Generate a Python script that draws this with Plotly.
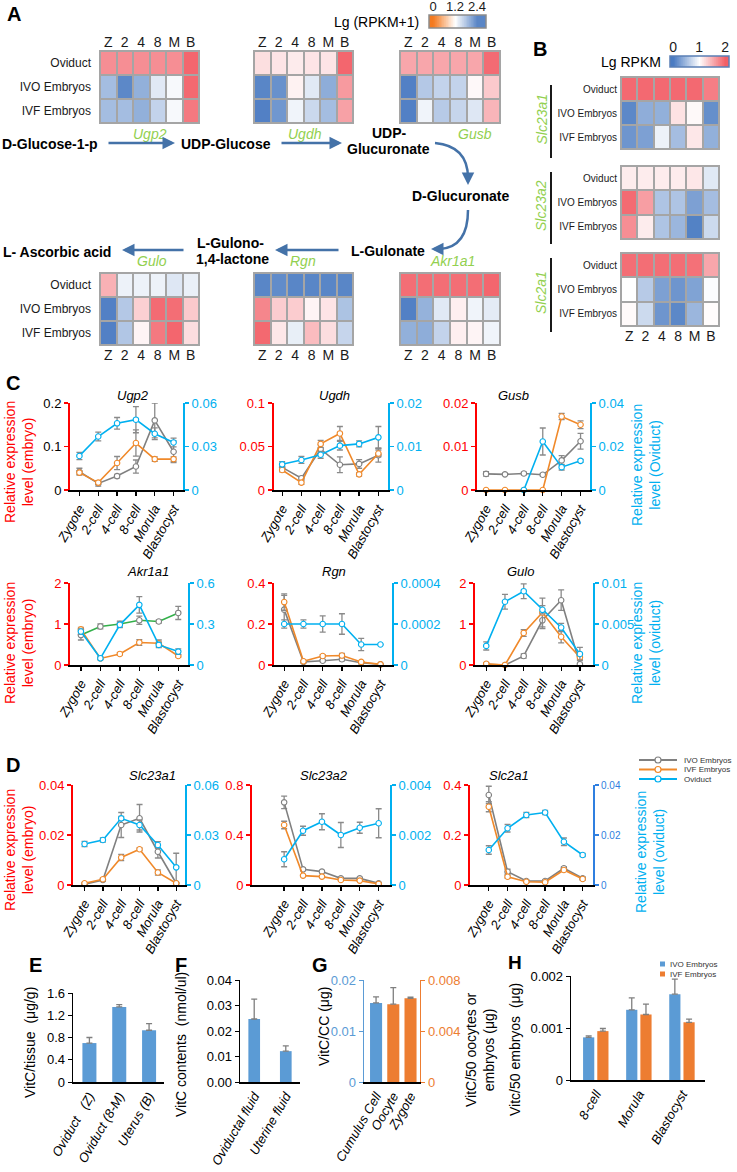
import numpy as np
import plotly.graph_objects as go

FONT = "Liberation Sans"
W, H = 737, 1172

# ------------------------------------------------------------------ DATA
stage_abbr = ["Z", "2", "4", "8", "M", "B"]
stages = ["Zygote", "2-cell", "4-cell", "8-cell", "Morula", "Blastocyst"]
heat_rows = ["Oviduct", "IVO Embryos", "IVF Embryos"]

# Panel A heatmaps, Lg(RPKM+1)  (rows: Oviduct, IVO, IVF)
ugp2_heat = [[0.36, 0.36, 0.36, 0.36, 0.36, 0.06],
             [1.80, 2.28, 1.92, 1.40, 1.25, 0.08],
             [1.80, 1.80, 1.92, 1.60, 1.25, 0.20]]
ugdh_heat = [[0.96, 1.00, 1.05, 1.00, 1.00, 0.06],
             [2.30, 2.20, 1.10, 1.40, 1.95, 0.45],
             [2.35, 2.15, 1.30, 1.55, 1.80, 0.50]]
gusb_heat = [[0.54, 0.54, 0.54, 0.54, 0.54, 0.10],
             [2.35, 1.70, 1.60, 1.60, 1.15, 0.80],
             [2.35, 1.30, 1.68, 1.58, 1.42, 0.65]]
gulo_heat = [[0.62, 1.32, 1.32, 1.32, 1.42, 1.34],
             [2.35, 1.70, 0.85, 0.10, 0.12, 0.80],
             [2.35, 1.72, 1.12, 0.20, 0.06, 0.95]]
rgn_heat = [[2.30, 2.25, 2.30, 2.30, 2.30, 2.30],
            [0.30, 0.82, 0.82, 1.12, 1.00, 1.75],
            [0.08, 1.02, 1.35, 0.70, 0.95, 1.58]]
akr1a1_heat = [[0.12, 0.12, 0.12, 0.12, 0.12, 0.06],
               [2.35, 1.90, 1.40, 1.08, 1.30, 1.38],
               [1.92, 1.95, 1.60, 1.08, 1.12, 1.30]]

# Panel B heatmaps, Lg RPKM
slc23a1_heat = [[1.93, 1.93, 1.93, 1.93, 1.93, 1.80],
                [0.10, 0.38, 0.40, 1.18, 1.04, 0.15],
                [0.20, 0.28, 0.90, 0.50, 1.15, 0.40]]
slc23a2_heat = [[1.12, 1.12, 1.12, 1.12, 1.15, 0.83],
                [1.92, 1.60, 0.55, 0.55, 0.28, 0.50],
                [1.70, 1.12, 0.55, 0.45, 0.05, 0.72]]
slc2a1_heat = [[1.90, 1.90, 1.90, 1.90, 1.88, 1.55],
               [1.00, 0.60, 0.28, 0.20, 0.30, 0.98],
               [1.03, 0.72, 0.20, 0.10, 0.45, 1.02]]

cbarA_ticks = [0, 1.2, 2.4]
cbarA_text = ["0", "1.2", "2.4"]
cbarB_ticks = [0, 1, 2]
cbarB_text = ["0", "1", "2"]

# Panel C / D: relative expression (mean, error)
ugp2_ivo = [0.042, 0.015, 0.032, 0.054, 0.160, 0.088]
ugp2_ivo_err = [0.008, 0.006, 0.004, 0.015, 0.040, 0.025]
ugp2_ivf = [0.040, 0.017, 0.062, 0.108, 0.071, 0.071]
ugp2_ivf_err = [0.004, 0.004, 0.015, 0.030, 0.005, 0.005]
ugp2_ovi = [0.0235, 0.0369, 0.0460, 0.0485, 0.0388, 0.0328]
ugp2_ovi_err = [0.0025, 0.0030, 0.0040, 0.0090, 0.0040, 0.0030]

ugdh_ivo = [0.026, 0.0135, 0.047, 0.029, 0.030, 0.040]
ugdh_ivo_err = [0.003, 0.002, 0.005, 0.009, 0.005, 0.008]
ugdh_ivf = [0.023, 0.0085, 0.053, 0.065, 0.018, 0.042]
ugdh_ivf_err = [0.002, 0.002, 0.004, 0.008, 0.002, 0.004]
ugdh_ovi = [0.0059, 0.0069, 0.0081, 0.0102, 0.0106, 0.0121]
ugdh_ovi_err = [0.0006, 0.0008, 0.0008, 0.0010, 0.0007, 0.0025]

gusb_ivo = [0.0037, 0.0036, 0.0038, 0.0035, 0.0068, 0.0112]
gusb_ivo_err = [0.0005, 0.0002, 0.0003, 0.0003, 0.0011, 0.0018]
gusb_ivf = [0, 0, 0, 0, 0.0169, 0.0150]
gusb_ivf_err = [0, 0, 0, 0, 0.0007, 0.0009]
gusb_ovi = [None, None, 0, 0.0223, 0.0105, 0.0134]
gusb_ovi_err = [0, 0, 0, 0.0062, 0.0013, 0.0007]

akr1a1_ivo = [0.73, 0.94, 1.00, 1.09, 1.06, 1.27]
akr1a1_ivo_err = [0.12, 0.06, 0.07, 0.10, 0.04, 0.16]
akr1a1_ivf = [0.87, 0.16, 0.27, 0.55, 0.53, 0.22]
akr1a1_ivf_err = [0.05, 0.03, 0.03, 0.07, 0.08, 0.03]
akr1a1_ovi = [0.245, 0.049, 0.294, 0.440, 0.147, 0.098]
akr1a1_ovi_err = [0.020, 0.010, 0.020, 0.060, 0.020, 0.020]

rgn_ivo = [0.270, 0.015, 0.021, 0.028, 0.011, 0.003]
rgn_ivo_err = [0.070, 0.004, 0.005, 0.008, 0.003, 0.001]
rgn_ivf = [0.307, 0.018, 0.044, 0.046, 0.015, 0.003]
rgn_ivf_err = [0.040, 0.004, 0.006, 0.010, 0.003, 0.001]
rgn_ovi = [0.0002, 0.0002, 0.0002, 0.0002, 0.0001, 0.0001]
rgn_ovi_err = [0.00002, 0.00002, 0.00004, 0.00005, 0.00003, 0.0]

gulo_ivo = [0.02, 0.0, 0.22, 1.09, 1.58, 0.02]
gulo_ivo_err = [0.01, 0.0, 0.05, 0.20, 0.25, 0.20]
gulo_ivf = [0.03, 0.0, 0.78, 1.28, 0.69, 0.19]
gulo_ivf_err = [0.02, 0.0, 0.08, 0.35, 0.15, 0.05]
gulo_ovi = [0.00233, 0.00771, 0.0090, 0.00673, 0.00457, 0.00135]
gulo_ovi_err = [0.0005, 0.0009, 0.0009, 0.0005, 0.0005, 0.0008]

slc23a1_ivo = [0.0003, 0.0020, 0.0240, 0.0267, 0.0133, 0.0007]
slc23a1_ivo_err = [0.0003, 0.0005, 0.0050, 0.0055, 0.0025, 0.0120]
slc23a1_ivf = [0.0007, 0.0023, 0.0110, 0.0143, 0.0050, 0.0007]
slc23a1_ivf_err = [0.0003, 0.0005, 0.0012, 0.0005, 0.0010, 0.0003]
slc23a1_ovi = [0.0246, 0.0270, 0.0400, 0.0360, 0.0240, 0.0106]
slc23a1_ovi_err = [0.0015, 0.0012, 0.0012, 0.0030, 0.0020, 0.0005]

slc23a2_ivo = [0.661, 0.125, 0.107, 0.053, 0.053, 0.013]
slc23a2_ivo_err = [0.050, 0.010, 0.010, 0.008, 0.008, 0.003]
slc23a2_ivf = [0.480, 0.075, 0.067, 0.040, 0.035, 0.008]
slc23a2_ivf_err = [0.030, 0.008, 0.008, 0.005, 0.005, 0.002]
slc23a2_ovi = [0.00103, 0.00217, 0.00253, 0.00200, 0.00229, 0.00247]
slc23a2_ovi_err = [0.00030, 0.00018, 0.00032, 0.00050, 0.00022, 0.00058]

slc2a1_ivo = [0.360, 0.053, 0.016, 0.016, 0.067, 0.027]
slc2a1_ivo_err = [0.035, 0.010, 0.004, 0.004, 0.006, 0.005]
slc2a1_ivf = [0.313, 0.033, 0.013, 0.011, 0.060, 0.024]
slc2a1_ivf_err = [0.020, 0.005, 0.003, 0.003, 0.005, 0.004]
slc2a1_ovi = [0.0140, 0.0227, 0.0280, 0.0290, 0.0173, 0.0120]
slc2a1_ovi_err = [0.0017, 0.0015, 0.0010, 0.0008, 0.0015, 0.0006]

# Panel E-H
e_cats = ["Oviduct   (Z)", "Oviduct (8-M)", "Uterus (B)"]
e_vals = [0.70, 1.35, 0.93]
e_err = [0.10, 0.04, 0.12]
f_cats = ["Oviductal fluid", "Uterine fluid"]
f_vals = [0.0247, 0.0121]
f_err = [0.0078, 0.0021]
g_cats = ["Cumulus Cell", "Oocyte", "Zygote"]
g_cc_vals = [0.0155]
g_cc_err = [0.0012]
g_emb_vals = [0.0061, 0.00656]
g_emb_err = [0.0013, 0.0001]
h_cats = ["8-cell", "Morula", "Blastocyst"]
h_ivo = [0.00082, 0.00135, 0.00165]
h_ivo_err = [0.00003, 0.00023, 0.00029]
h_ivf = [0.00094, 0.00126, 0.00111]
h_ivf_err = [0.00005, 0.00020, 0.00006]

# ------------------------------------------------------------------ STYLE
RED = "#ff0000"
CYAN = "#00b0f0"
GRAY = "#808080"
ORANGE = "#f0892a"
GREEN_LINE = "#33b04a"
ERRC = "#8a8a8a"
BLUE_BAR = "#5b9bd5"
ORANGE_BAR = "#ed7d31"
GENE_GREEN = "#92d050"
ARROW = "#4472a8"
CELL_RED = "#f25e66"
CELL_BLUE = "#4a7bc2"
csA = [[0, CELL_RED], [0.5, "#ffffff"], [1, CELL_BLUE]]
csB = [[0, CELL_BLUE], [0.5, "#ffffff"], [1, CELL_RED]]
csA_bar = [[0, "#f47a1f"], [0.5, "#ffffff"], [1, "#5a86c6"]]


def X(px):
    return px / W


def Y(py):
    return 1 - py / H


fig = go.Figure()
layout = dict(width=W, height=H,
              margin=dict(l=0, r=0, t=0, b=0, pad=0, autoexpand=False),
              paper_bgcolor="white", plot_bgcolor="rgba(0,0,0,0)",
              showlegend=False, barmode="overlay", template="none",
              font=dict(family=FONT, color="black"))
ann = []
shp = []
cnt = {"x": 0, "y": 0}


def new_axis(kind):
    cnt[kind] += 1
    n = cnt[kind]
    ref = kind if n == 1 else f"{kind}{n}"
    name = f"{kind}axis" if n == 1 else f"{kind}axis{n}"
    return ref, name


def text(t, x, y, size=14, color="black", xanchor="center", angle=0):
    ann.append(dict(text=t, x=X(x), y=Y(y), xref="paper", yref="paper",
                    showarrow=False, xanchor=xanchor, yanchor="middle",
                    textangle=angle,
                    font=dict(family=FONT, size=size, color=color)))


def heat(z, x0, y0, x1, y1, cs, zmax, col_side=None, show_rows=False,
         row_size=12, row_pad=8, col_size=14):
    xa, xn = new_axis("x")
    ya, yn = new_axis("y")
    layout[xn] = dict(domain=[X(x0), X(x1)], anchor=ya, range=[-0.5, 5.5],
                      type="category", tickmode="array", tickvals=stage_abbr,
                      ticktext=stage_abbr, tickangle=0, automargin=False,
                      showgrid=False, zeroline=False, showline=False, ticks="",
                      showticklabels=col_side is not None,
                      side=col_side or "bottom",
                      tickfont=dict(family=FONT, size=col_size, color="#1a1a1a"),
                      fixedrange=True)
    layout[yn] = dict(domain=[Y(y1), Y(y0)], anchor=xa, range=[2.5, -0.5],
                      type="category", tickmode="array", tickvals=heat_rows,
                      ticktext=heat_rows, automargin=False,
                      showgrid=False, zeroline=False, showline=False, ticks="",
                      showticklabels=show_rows, ticklabelstandoff=row_pad,
                      tickfont=dict(family=FONT, size=row_size, color="#1a1a1a"),
                      fixedrange=True)
    fig.add_trace(go.Heatmap(z=z, x=stage_abbr, y=heat_rows, colorscale=cs,
                             zmin=0, zmax=zmax, showscale=False, xgap=2, ygap=2,
                             xaxis=xa, yaxis=ya, hoverinfo="skip"))
    shp.append(dict(type="rect", xref="paper", yref="paper",
                    x0=X(x0 - 1), x1=X(x1 + 1), y0=Y(y1 + 1), y1=Y(y0 - 1),
                    fillcolor="#a5a5a5", line=dict(width=0), layer="below"))


def cbar(x0, y0, x1, y1, rng, ticks, ticktext, cs, zmin, zmax, border,
         size=14):
    xa, xn = new_axis("x")
    ya, yn = new_axis("y")
    grad = list(np.linspace(rng[0], rng[1], 90))
    layout[xn] = dict(domain=[X(x0), X(x1)], anchor=ya, range=rng, side="top",
                      tickmode="array", tickvals=ticks, ticktext=ticktext,
                      ticks="", tickangle=0, automargin=False,
                      ticklabeloverflow="allow",
                      showline=False, showgrid=False, zeroline=False,
                      tickfont=dict(family=FONT, size=size, color="#1a1a1a"),
                      fixedrange=True)
    layout[yn] = dict(domain=[Y(y1), Y(y0)], anchor=xa, range=[-0.5, 0.5],
                      visible=False, fixedrange=True, automargin=False)
    fig.add_trace(go.Heatmap(z=[grad], x=grad, y=[0], colorscale=cs,
                             zmin=zmin, zmax=zmax, zsmooth="best",
                             showscale=False, xaxis=xa, yaxis=ya,
                             hoverinfo="skip"))
    shp.append(dict(type="rect", xref="paper", yref="paper",
                    x0=X(x0), x1=X(x1), y0=Y(y1), y1=Y(y0),
                    line=dict(color=border, width=1.5)))


def scatter(y, err, color, line_color, xa, ya):
    return go.Scatter(x=stages, y=y, mode="lines+markers", xaxis=xa, yaxis=ya,
                      line=dict(color=line_color, width=1.6),
                      marker=dict(symbol="circle", size=5.5, color="white",
                                  line=dict(color=color, width=1.1)),
                      error_y=dict(type="data", array=err, color=ERRC,
                                   thickness=1.3, width=3),
                      cliponaxis=False, showlegend=False, hoverinfo="skip")


def line_chart(title, ivo, ivo_e, ivf, ivf_e, ovi, ovi_e, px, py, xr,
               lt, lt_txt, rt, rt_txt, title_y, ltc=RED, rcol=CYAN,
               rsize=13, ivo_line=GRAY, title_x=None):
    x0, x1 = px
    ytop, ybot = py
    xa, xn = new_axis("x")
    ya, yn = new_axis("y")
    ya2, yn2 = new_axis("y")
    layout[xn] = dict(domain=[X(x0), X(x1)], anchor=ya, type="category",
                      tickmode="array", tickvals=stages, ticktext=stages,
                      automargin=False,
                      range=xr, showline=True, linecolor="black", linewidth=2,
                      ticks="outside", ticklen=4, tickwidth=1.3,
                      tickcolor="black", tickangle=-60, showgrid=False,
                      zeroline=False, fixedrange=True,
                      tickfont=dict(family=FONT, size=13, style="italic",
                                    color="black"))
    layout[yn] = dict(domain=[Y(ybot), Y(ytop)], anchor=xa, range=[0, lt[-1]],
                      tickmode="array", tickvals=lt, ticktext=lt_txt,
                      showline=True, automargin=False,
                      linecolor=RED, linewidth=2, ticks="outside", ticklen=4,
                      tickwidth=1.3, tickcolor=RED, showgrid=False,
                      zeroline=False, fixedrange=True,
                      tickfont=dict(family=FONT, size=13, color=ltc))
    layout[yn2] = dict(overlaying=ya, side="right", anchor=xa,
                       range=[0, rt[-1]], tickmode="array", tickvals=rt,
                       ticktext=rt_txt, automargin=False,
                       showline=True, linecolor=rcol, linewidth=2,
                       ticks="outside", ticklen=4, tickwidth=1.3,
                       tickcolor=rcol, showgrid=False, zeroline=False,
                       fixedrange=True,
                       tickfont=dict(family=FONT, size=rsize, color=rcol))
    fig.add_trace(scatter(ivo, ivo_e, GRAY, ivo_line, xa, ya))
    fig.add_trace(scatter(ivf, ivf_e, ORANGE, ORANGE, xa, ya))
    fig.add_trace(scatter(ovi, ovi_e, CYAN, CYAN, xa, ya2))
    tx = title_x if title_x is not None else (x0 + x1) / 2
    ann.append(dict(text=f"<i>{title}</i>", x=X(tx), y=Y(title_y),
                    xref="paper", yref="paper", showarrow=False,
                    font=dict(family=FONT, size=13, color="black")))


def arrow(xt, yt, xh, yh):
    ann.append(dict(x=X(xh), y=Y(yh), xref="paper", yref="paper",
                    ax=xt - xh, ay=yt - yh, axref="pixel", ayref="pixel",
                    text="", showarrow=True, arrowhead=2, arrowsize=1.0,
                    arrowwidth=2.5, arrowcolor=ARROW, standoff=0))


def curve(p0, c, p1):
    path = (f"M {X(p0[0])},{Y(p0[1])} Q {X(c[0])},{Y(c[1])} "
            f"{X(p1[0])},{Y(p1[1])}")
    shp.append(dict(type="path", path=path, xref="paper", yref="paper",
                    line=dict(color=ARROW, width=2.5)))


# ------------------------------------------------------------------ PANEL A
heat(ugp2_heat, 100, 51, 199, 123, csA, 2.4, col_side="top", show_rows=True)
heat(ugdh_heat, 254, 51, 353, 123, csA, 2.4, col_side="top")
heat(gusb_heat, 400, 51, 500, 123, csA, 2.4, col_side="top")
heat(gulo_heat, 100, 273, 199, 345, csA, 2.4, col_side="bottom", show_rows=True)
heat(rgn_heat, 254, 273, 353, 345, csA, 2.4, col_side="bottom")
heat(akr1a1_heat, 400, 273, 500, 345, csA, 2.4, col_side="bottom")

cbar(429, 15, 486, 28, [-0.22, 2.89], cbarA_ticks, cbarA_text, csA_bar,
     0, 2.4, "#8c8c8c", size=13)
text("Lg (RPKM+1)", 421, 22, size=14, xanchor="right")

text("<b>A</b>", 14, 14, size=20)
text("<b>D-Glucose-1-p</b>", 50, 144, size=14)
text("<b>UDP-Glucose</b>", 226, 144, size=14)
text("<b>UDP-</b>", 389, 133, size=14)
text("<b>Glucuronate</b>", 388, 149, size=14)
text("<b>D-Glucuronate</b>", 460, 196, size=14)
text("<b>L-Gulonate</b>", 388, 251, size=14)
text("<b>L-Gulono-</b>", 230, 243, size=14)
text("<b>1,4-lactone</b>", 232, 259, size=14)
text("<b>L- Ascorbic acid</b>", 57, 252, size=14)
text("<i>Ugp2</i>", 150, 134, size=14, color=GENE_GREEN)
text("<i>Ugdh</i>", 305, 134, size=14, color=GENE_GREEN)
text("<i>Gusb</i>", 475, 134, size=14, color=GENE_GREEN)
text("<i>Akr1a1</i>", 452, 261, size=14, color=GENE_GREEN)
text("<i>Rgn</i>", 303, 261, size=14, color=GENE_GREEN)
text("<i>Gulo</i>", 152, 261, size=14, color=GENE_GREEN)

arrow(107, 143, 175, 143)
arrow(280, 143, 342, 143)
arrow(340, 250, 275, 250)
arrow(185, 250, 122, 250)
curve((435, 143), (468, 146), (468, 178))
arrow(468, 176, 468, 185)
curve((468, 210), (468, 247), (440, 249))
arrow(441, 249, 431, 249)

# ------------------------------------------------------------------ PANEL B
text("<b>B</b>", 540, 49, size=20)
cbar(670, 56, 729, 67, [-0.12, 2.15], cbarB_ticks, cbarB_text, csB,
     0, 2, "#5a7fb5")
text("Lg RPKM", 663, 62, size=14, xanchor="right")
heat(slc23a1_heat, 621, 77, 719, 149, csB, 2, show_rows=True, row_size=10,
     row_pad=3)
heat(slc23a2_heat, 621, 166, 719, 239, csB, 2, show_rows=True, row_size=10,
     row_pad=3)
heat(slc2a1_heat, 621, 253, 719, 326, csB, 2, col_side="bottom",
     show_rows=True, row_size=10, row_pad=3)
for (yy0, yy1, g) in [(85, 158, "Slc23a1"), (172, 244, "Slc23a2"),
                      (258, 332, "Slc2a1")]:
    shp.append(dict(type="line", xref="paper", yref="paper", x0=X(551),
                    x1=X(551), y0=Y(yy0), y1=Y(yy1),
                    line=dict(color="black", width=1.8)))
    text(f"<i>{g}</i>", 541, (yy0 + yy1) / 2 - 2, size=14, color=GENE_GREEN,
         angle=-90)

# ------------------------------------------------------------------ PANEL C
text("<b>C</b>", 13, 383, size=20)
line_chart("Ugp2", ugp2_ivo, ugp2_ivo_err, ugp2_ivf, ugp2_ivf_err, ugp2_ovi,
           ugp2_ovi_err, (70, 183), (403, 490), [-0.5, 5.5],
           [0, 0.1, 0.2], ["0", "0.1", "0.2"], [0, 0.03, 0.06],
           ["0", "0.03", "0.06"], 396, ltc="black", title_x=115)
line_chart("Ugdh", ugdh_ivo, ugdh_ivo_err, ugdh_ivf, ugdh_ivf_err, ugdh_ovi,
           ugdh_ovi_err, (273.5, 388), (403, 490), [-0.45, 5.5],
           [0, 0.05, 0.1], ["0", "0.05", "0.1"], [0, 0.01, 0.02],
           ["0", "0.01", "0.02"], 396, title_x=334)
line_chart("Gusb", gusb_ivo, gusb_ivo_err, gusb_ivf, gusb_ivf_err, gusb_ovi,
           gusb_ovi_err, (477, 590), (403, 490), [-0.48, 5.5],
           [0, 0.01, 0.02], ["0", "0.01", "0.02"], [0, 0.02, 0.04],
           ["0", "0.02", "0.04"], 396, title_x=531)
line_chart("Akr1a1", akr1a1_ivo, akr1a1_ivo_err, akr1a1_ivf, akr1a1_ivf_err,
           akr1a1_ovi, akr1a1_ovi_err, (70, 188), (583, 665), [-0.56, 5.5],
           [0, 1, 2], ["0", "1", "2"], [0, 0.3, 0.6], ["0", "0.3", "0.6"],
           572, ivo_line=GREEN_LINE, title_x=125)
line_chart("Rgn", rgn_ivo, rgn_ivo_err, rgn_ivf, rgn_ivf_err, rgn_ovi,
           rgn_ovi_err, (274, 392), (583, 665), [-0.53, 5.6],
           [0, 0.2, 0.4], ["0", "0.2", "0.4"], [0, 0.0002, 0.0004],
           ["0", "0.0002", "0.0004"], 572, title_x=334)
line_chart("Gulo", gulo_ivo, gulo_ivo_err, gulo_ivf, gulo_ivf_err, gulo_ovi,
           gulo_ovi_err, (475, 593), (583, 665), [-0.6, 5.7],
           [0, 1, 2], ["0", "1", "2"], [0, 0.005, 0.01],
           ["0", "0.005", "0.01"], 572, title_x=536)

text("Relative expression<br>level (embryo)", 19, 462, size=14, color=RED,
     angle=-90)
text("Relative expression<br>level (Oviduct)", 646, 465, size=14, color=CYAN,
     angle=-90)
text("Relative expression<br>level (embryo)", 19, 643, size=14, color=RED,
     angle=-90)
text("Relative expression<br>level (oviduct)", 646, 643, size=14, color=CYAN,
     angle=-90)

# ------------------------------------------------------------------ PANEL D
text("<b>D</b>", 13, 765, size=20)
line_chart("Slc23a1", slc23a1_ivo, slc23a1_ivo_err, slc23a1_ivf,
           slc23a1_ivf_err, slc23a1_ovi, slc23a1_ovi_err, (73, 185),
           (785, 885), [-0.63, 5.48], [0, 0.02, 0.04], ["0", "0.02", "0.04"],
           [0, 0.03, 0.06], ["0", "0.03", "0.06"], 775, title_x=127)
line_chart("Slc23a2", slc23a2_ivo, slc23a2_ivo_err, slc23a2_ivf,
           slc23a2_ivf_err, slc23a2_ovi, slc23a2_ovi_err, (252, 390),
           (785, 885), [-1.7, 5.6], [0, 0.4, 0.8], ["0", "0.4", "0.8"],
           [0, 0.002, 0.004], ["0", "0.002", "0.004"], 775, title_x=324)
line_chart("Slc2a1", slc2a1_ivo, slc2a1_ivo_err, slc2a1_ivf, slc2a1_ivf_err,
           slc2a1_ovi, slc2a1_ovi_err, (470, 593), (785, 885), [-1.0, 5.55],
           [0, 0.2, 0.4], ["0", "0.2", "0.4"], [0, 0.02, 0.04],
           ["0", "0.02", "0.04"], 775, rcol="#2f7fe0", rsize=10, title_x=531)
text("Relative expression<br>level (embryo)", 19, 850, size=14, color=RED,
     angle=-90)
text("Relative expression<br>level (oviduct)", 650, 852, size=14, color=CYAN,
     angle=-90)

# legend for C/D
for i, (nm, col) in enumerate([("IVO Embryos", GRAY), ("IVF Embryos", ORANGE),
                               ("Oviduct", CYAN)]):
    yy = 760 + i * 9.5
    shp.append(dict(type="line", xref="paper", yref="paper", x0=X(639),
                    x1=X(677), y0=Y(yy), y1=Y(yy),
                    line=dict(color=col, width=1.8)))
    shp.append(dict(type="circle", xref="paper", yref="paper", x0=X(655),
                    x1=X(661), y0=Y(yy + 3), y1=Y(yy - 3), fillcolor="white",
                    line=dict(color=col, width=1.2)))
    text(nm, 682, yy, size=8, color="#333333", xanchor="left")


# ------------------------------------------------------------------ PANEL E-H
def bar_axes(px, py, xr, cats, yr, tv, tt, lcol="black", tcol="black"):
    xa, xn = new_axis("x")
    ya, yn = new_axis("y")
    layout[xn] = dict(domain=[X(px[0]), X(px[1])], anchor=ya, type="category",
                      categoryorder="array", categoryarray=cats, range=xr,
                      tickmode="array", tickvals=cats, ticktext=cats,
                      automargin=False,
                      showline=True, linecolor="black", linewidth=1.5,
                      ticks="", tickangle=-60, showgrid=False, zeroline=False,
                      fixedrange=True,
                      tickfont=dict(family=FONT, size=13, style="italic",
                                    color="black"))
    layout[yn] = dict(domain=[Y(py[1]), Y(py[0])], anchor=xa, range=yr,
                      tickmode="array", tickvals=tv, ticktext=tt,
                      automargin=False, showline=True, linecolor=lcol,
                      linewidth=1.3, ticks="outside", ticklen=4,
                      tickcolor=lcol, showgrid=False, zeroline=False,
                      fixedrange=True,
                      tickfont=dict(family=FONT, size=13, color=tcol))
    return xa, ya, xn, yn


def up_err(err):
    return dict(type="data", array=err, arrayminus=[0] * len(err),
                symmetric=False, color="#7f7f7f", thickness=1.3, width=3)


# E
text("<b>E</b>", 35, 965, size=20)
xa, ya, _, _ = bar_axes((73, 164), (993, 1082), [-0.55, 2.5], e_cats,
                        [0, 1.6], [0, 0.4, 0.8, 1.2, 1.6],
                        ["0", "0.4", "0.8", "1.2", "1.6"])
fig.add_trace(go.Bar(x=e_cats, y=e_vals, error_y=up_err(e_err), width=0.47,
                     marker=dict(color=BLUE_BAR, line=dict(width=0)),
                     xaxis=xa, yaxis=ya, hoverinfo="skip"))
text("VitC/tissue  (μg/g)", 30, 1043, size=14, angle=-90)

# F
text("<b>F</b>", 181, 965, size=20)
xa, ya, _, _ = bar_axes((240, 300), (980, 1082), [-0.45, 1.45], f_cats,
                        [0, 0.04], [0, 0.01, 0.02, 0.03, 0.04],
                        ["0.00", "0.01", "0.02", "0.03", "0.04"])
fig.add_trace(go.Bar(x=f_cats, y=f_vals, error_y=up_err(f_err), width=0.37,
                     marker=dict(color=BLUE_BAR, line=dict(width=0)),
                     xaxis=xa, yaxis=ya, hoverinfo="skip"))
text("VitC contents  (nmol/ul)", 181, 1045, size=14, angle=-90)

# G
text("<b>G</b>", 320, 965, size=20)
xa, ya, xn, yn = bar_axes((364, 420), (980, 1082), [-0.7, 2.55], g_cats,
                          [0, 0.02], [0, 0.01, 0.02], ["0", "0.01", "0.02"],
                          lcol=BLUE_BAR, tcol=BLUE_BAR)
ya2, yn2 = new_axis("y")
layout[yn2] = dict(overlaying=ya, side="right", anchor=xa, range=[0, 0.008],
                   tickmode="array", tickvals=[0, 0.004, 0.008],
                   ticktext=["0", "0.004", "0.008"], automargin=False,
                   showline=True, linecolor=ORANGE_BAR, linewidth=1.3,
                   ticks="outside", ticklen=4, tickcolor=ORANGE_BAR,
                   showgrid=False, zeroline=False, fixedrange=True,
                   tickfont=dict(family=FONT, size=13, color=ORANGE_BAR))
fig.add_trace(go.Bar(x=g_cats[:1], y=g_cc_vals, error_y=up_err(g_cc_err),
                     width=0.7, marker=dict(color=BLUE_BAR, line=dict(width=0)),
                     xaxis=xa, yaxis=ya, hoverinfo="skip"))
fig.add_trace(go.Bar(x=g_cats[1:], y=g_emb_vals, error_y=up_err(g_emb_err),
                     width=0.7,
                     marker=dict(color=ORANGE_BAR, line=dict(width=0)),
                     xaxis=xa, yaxis=ya2, hoverinfo="skip"))
text("VitC/CC (μg)", 324, 1027, size=14, angle=-90)
text("VitC/50 oocytes or<br>embryos (μg)", 480, 1050, size=14, angle=-90)

# H
text("<b>H</b>", 515, 962, size=19)
xa, ya, _, _ = bar_axes((571, 705), (976, 1080), [-0.58, 2.53], h_cats,
                        [0, 0.002], [0, 0.001, 0.002], ["0", "0.001", "0.002"])
fig.add_trace(go.Bar(x=h_cats, y=h_ivo, error_y=up_err(h_ivo_err),
                     width=0.26, offset=-0.30,
                     marker=dict(color=BLUE_BAR, line=dict(width=0)),
                     xaxis=xa, yaxis=ya, hoverinfo="skip"))
fig.add_trace(go.Bar(x=h_cats, y=h_ivf, error_y=up_err(h_ivf_err),
                     width=0.26, offset=0.03,
                     marker=dict(color=ORANGE_BAR, line=dict(width=0)),
                     xaxis=xa, yaxis=ya, hoverinfo="skip"))
text("Vitc/50 embryos  (μg)", 515, 1050, size=14, angle=-90)
for i, (nm, col) in enumerate([("IVO Embryos", BLUE_BAR),
                               ("IVF Embryos", ORANGE_BAR)]):
    yy = 964 + i * 10
    shp.append(dict(type="rect", xref="paper", yref="paper", x0=X(660),
                    x1=X(665), y0=Y(yy + 2.5), y1=Y(yy - 2.5), fillcolor=col,
                    line=dict(width=0)))
    text(nm, 668, yy, size=8, color="#333333", xanchor="left")

layout["annotations"] = ann
layout["shapes"] = shp
fig.update_layout(**layout)
fig.write_html("out.html",
               config={"displayModeBar": False, "staticPlot": True},
               post_script="document.body.style.margin='0px';"
                           "document.body.style.padding='0px';")
